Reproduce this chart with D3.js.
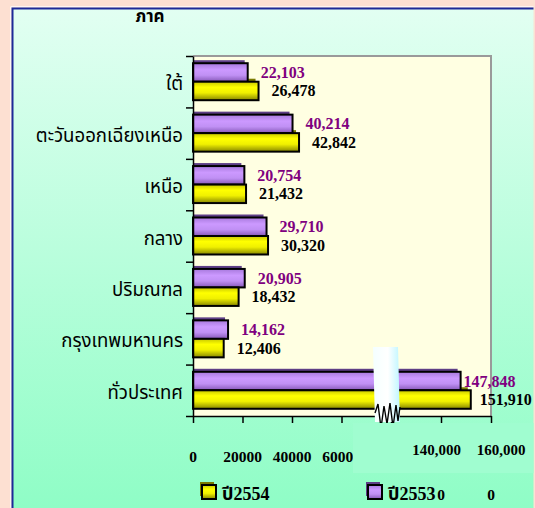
<!DOCTYPE html>
<html>
<head>
<meta charset="utf-8">
<script src="https://cdn.jsdelivr.net/npm/d3@7"></script>
<style>
  body { margin: 0; background: #fde0d2; }
  svg { display: block; }
</style>
</head>
<body>
<div id="chart"></div>
<script>
// data
const categories = ["ใต้", "ตะวันออกเฉียงเหนือ", "เหนือ", "กลาง", "ปริมณฑล", "กรุงเทพมหานคร", "ทั่วประเทศ"];
const values2553 = [22103, 40214, 20754, 29710, 20905, 14162, 147848];
const values2554 = [26478, 42842, 21432, 30320, 18432, 12406, 151910];
const seriesKeys = ["y2553", "y2554"];
const legendLabels = ["ปี2554", "ปี2553"];
const tickValues = [0, 20000, 40000, 60000, 80000, 140000, 160000];
const oldTickLabels = ["0", "20000", "40000", "60000"];
const newTickLabels = ["140,000", "160,000"];
const leftoverLabels = ["0", "0"];

const width = 535, height = 508;
const plot = {left: 193, right: 491, top: 56, bottom: 416};
const thaiFont = '"Noto Sans Thai", "Noto Sans Thai UI", Tahoma, "DejaVu Sans", sans-serif';
const numFont = '"Liberation Serif", "Times New Roman", serif';

const data = categories.map((c, i) => ({cat: c, y2553: values2553[i], y2554: values2554[i]}));

const svg = d3.select("#chart").append("svg")
    .attr("width", width)
    .attr("height", height);

const defs = svg.append("defs");

const bgGrad = defs.append("linearGradient").attr("id", "bg")
    .attr("x1", 0).attr("y1", 0).attr("x2", 0).attr("y2", 1);
bgGrad.append("stop").attr("offset", "0%").attr("stop-color", "#e2fff2");
bgGrad.append("stop").attr("offset", "100%").attr("stop-color", "#8ffdc6");

function barGrad(id, stops) {
    const g = defs.append("linearGradient").attr("id", id)
        .attr("x1", 0).attr("y1", 0).attr("x2", 0).attr("y2", 1);
    stops.forEach(s => g.append("stop").attr("offset", s[0]).attr("stop-color", s[1]));
}
barGrad("purpleGrad", [["0%", "#a779dc"], ["35%", "#cc99ff"], ["65%", "#c090f4"], ["100%", "#8658b8"]]);
barGrad("yellowGrad", [["0%", "#c8c800"], ["30%", "#ffff00"], ["60%", "#f0f000"], ["100%", "#868600"]]);

const breakGrad = defs.append("linearGradient").attr("id", "breakGrad")
    .attr("x1", 0).attr("y1", 0).attr("x2", 1).attr("y2", 0);
breakGrad.append("stop").attr("offset", "0%").attr("stop-color", "#f4ffff");
breakGrad.append("stop").attr("offset", "55%").attr("stop-color", "#ffffff");
breakGrad.append("stop").attr("offset", "100%").attr("stop-color", "#bff6ff");

const fills = {y2553: "url(#purpleGrad)", y2554: "url(#yellowGrad)"};
const shadows = {y2553: "#5e3f86", y2554: "#7a7a00"};
const labelColors = {y2553: "#800080", y2554: "#000000"};

// frame
svg.append("rect")
    .attr("x", 12).attr("y", 8)
    .attr("width", 521.5).attr("height", height - 8)
    .attr("fill", "url(#bg)");
svg.append("path")
    .attr("d", `M10.8,${height} V6.8 H533.5`)
    .attr("fill", "none").attr("stroke", "#ffffff").attr("stroke-width", 1);
svg.append("path")
    .attr("d", `M12.5,${height} V8.5 H533.5`)
    .attr("fill", "none").attr("stroke", "#1d2a98").attr("stroke-width", 2);

// scales (the axis is broken between 80,000 and 120,000)
const x = d3.scaleLinear()
    .domain([0, 80000, 120000, 160000])
    .range([plot.left, 391, 391, plot.right]);

const y0 = d3.scaleBand()
    .domain(categories)
    .range([plot.top, plot.bottom]);

const y1 = d3.scaleBand()
    .domain(seriesKeys)
    .range([0, y0.bandwidth()])
    .paddingOuter(0.39);

// plot area
svg.append("rect")
    .attr("x", plot.left).attr("y", plot.top)
    .attr("width", plot.right - plot.left).attr("height", plot.bottom - plot.top)
    .attr("fill", "#ffffe2");
svg.append("path")
    .attr("d", `M${plot.left},${plot.top} H${plot.right} V${plot.bottom}`)
    .attr("fill", "none").attr("stroke", "#9a9a9a").attr("stroke-width", 2);

const groups = svg.selectAll(".cat")
    .data(data)
    .enter()
    .append("g")
    .attr("class", "cat")
    .attr("transform", d => `translate(0, ${y0(d.cat)})`);

groups.selectAll(".shadow")
    .data(d => seriesKeys.map(k => ({key: k, value: d[k]})))
    .enter()
    .append("rect")
    .attr("class", "shadow")
    .attr("x", x(0))
    .attr("y", d => y1(d.key) - 3)
    .attr("width", d => x(d.value) - x(0) - 3)
    .attr("height", y1.bandwidth())
    .attr("fill", d => shadows[d.key]);

groups.selectAll(".bar")
    .data(d => seriesKeys.map(k => ({key: k, value: d[k]})))
    .enter()
    .append("rect")
    .attr("class", "bar")
    .attr("x", x(0))
    .attr("y", d => y1(d.key))
    .attr("width", d => x(d.value) - x(0))
    .attr("height", y1.bandwidth())
    .attr("fill", d => fills[d.key])
    .attr("stroke", "#000")
    .attr("stroke-width", 2);

groups.selectAll(".valueLabel")
    .data(d => seriesKeys.map(k => ({key: k, value: d[k]})))
    .enter()
    .append("text")
    .attr("class", "valueLabel")
    .attr("x", d => x(d.value) + (d.value > 100000 ? (d.key === "y2553" ? 3 : 9) : 13))
    .attr("y", d => y1(d.key) + y1.bandwidth() / 2 + 5.5)
    .attr("font-family", numFont)
    .attr("font-weight", "bold")
    .attr("font-size", 16)
    .attr("fill", d => labelColors[d.key])
    .text(d => d3.format(",")(d.value));

// axes
const yb = d3.scaleLinear().domain([0, categories.length]).range([plot.top, plot.bottom]);
svg.append("g")
    .attr("transform", `translate(${plot.left}, 0)`)
    .call(d3.axisLeft(yb).ticks(categories.length).tickFormat("").tickSize(7).tickSizeOuter(0))
    .call(g => g.selectAll("line, path").attr("stroke", "#000").attr("stroke-width", 1.5));

svg.append("g")
    .attr("transform", `translate(0, ${plot.bottom})`)
    .call(d3.axisBottom(x).tickValues(tickValues).tickFormat("").tickSize(7).tickSizeOuter(0))
    .call(g => g.selectAll("line, path").attr("stroke", "#000").attr("stroke-width", 1.5));

svg.selectAll(".catLabel")
    .data(categories)
    .enter()
    .append("text")
    .attr("class", "catLabel")
    .attr("x", 183)
    .attr("y", d => y0(d) + y0.bandwidth() / 2 + 8.5)
    .attr("text-anchor", "end")
    .attr("font-family", thaiFont)
    .attr("font-size", 18.6)
    .attr("fill", "#000")
    .text(d => d);

svg.append("text")
    .attr("x", 150).attr("y", 22)
    .attr("text-anchor", "middle")
    .attr("font-family", thaiFont)
    .attr("font-weight", "bold")
    .attr("font-size", 17)
    .text("ภาค");

// axis break mark
const bx = x(80000) - 18;
svg.append("path")
    .attr("d", `M${bx},347 L${bx + 25},347 L${bx + 27},422 L${bx + 2},422 Z`)
    .attr("fill", "url(#breakGrad)");
svg.append("path")
    .attr("d", `M${bx + 2},413 L${bx + 5},404 L${bx + 8},428 L${bx + 11},406 L${bx + 14},424 L${bx + 17},403 L${bx + 20},427 L${bx + 23},405 L${bx + 25},421 L${bx + 27},407`)
    .attr("fill", "none").attr("stroke", "#000").attr("stroke-width", 1.4);

// tick labels
svg.selectAll(".oldTick")
    .data(oldTickLabels)
    .enter()
    .append("text")
    .attr("class", "oldTick")
    .attr("x", (d, i) => x(tickValues[i]))
    .attr("y", 462)
    .attr("text-anchor", "middle")
    .attr("font-family", numFont)
    .attr("font-weight", "bold")
    .attr("font-size", 15.5)
    .text(d => d);

// patch pasted over the old labels
svg.append("rect")
    .attr("x", 353).attr("y", 423)
    .attr("width", 180.5).attr("height", 50)
    .attr("fill", "#a0fdd0");

const newTickVals = tickValues.slice(-2);
svg.selectAll(".newTick")
    .data(newTickLabels)
    .enter()
    .append("text")
    .attr("class", "newTick")
    .attr("x", (d, i) => x(newTickVals[i]) + (i === 0 ? -4.5 : 10))
    .attr("y", 455)
    .attr("text-anchor", "middle")
    .attr("font-family", numFont)
    .attr("font-weight", "bold")
    .attr("font-size", 15)
    .text(d => d);

svg.selectAll(".leftover")
    .data(leftoverLabels)
    .enter()
    .append("text")
    .attr("class", "leftover")
    .attr("x", (d, i) => x(newTickVals[i]))
    .attr("y", 500)
    .attr("text-anchor", "middle")
    .attr("font-family", numFont)
    .attr("font-weight", "bold")
    .attr("font-size", 15.5)
    .text(d => d);

// legend
const legendKeys = ["y2554", "y2553"];
const legendX = [202, 368];
const legend = svg.selectAll(".legend")
    .data(legendKeys)
    .enter()
    .append("g")
    .attr("class", "legend")
    .attr("transform", (d, i) => `translate(${legendX[i]}, 485)`);

legend.append("rect")
    .attr("x", -2).attr("y", -3)
    .attr("width", 14).attr("height", 14)
    .attr("fill", d => shadows[d]);
legend.append("rect")
    .attr("x", 0).attr("y", 0)
    .attr("width", 14).attr("height", 14)
    .attr("fill", d => fills[d])
    .attr("stroke", "#000").attr("stroke-width", 2);
legend.append("text")
    .attr("x", 20).attr("y", 15)
    .attr("font-family", numFont + ", " + thaiFont)
    .attr("font-weight", "bold")
    .attr("font-size", 18)
    .text((d, i) => legendLabels[i]);
</script>
</body>
</html>
